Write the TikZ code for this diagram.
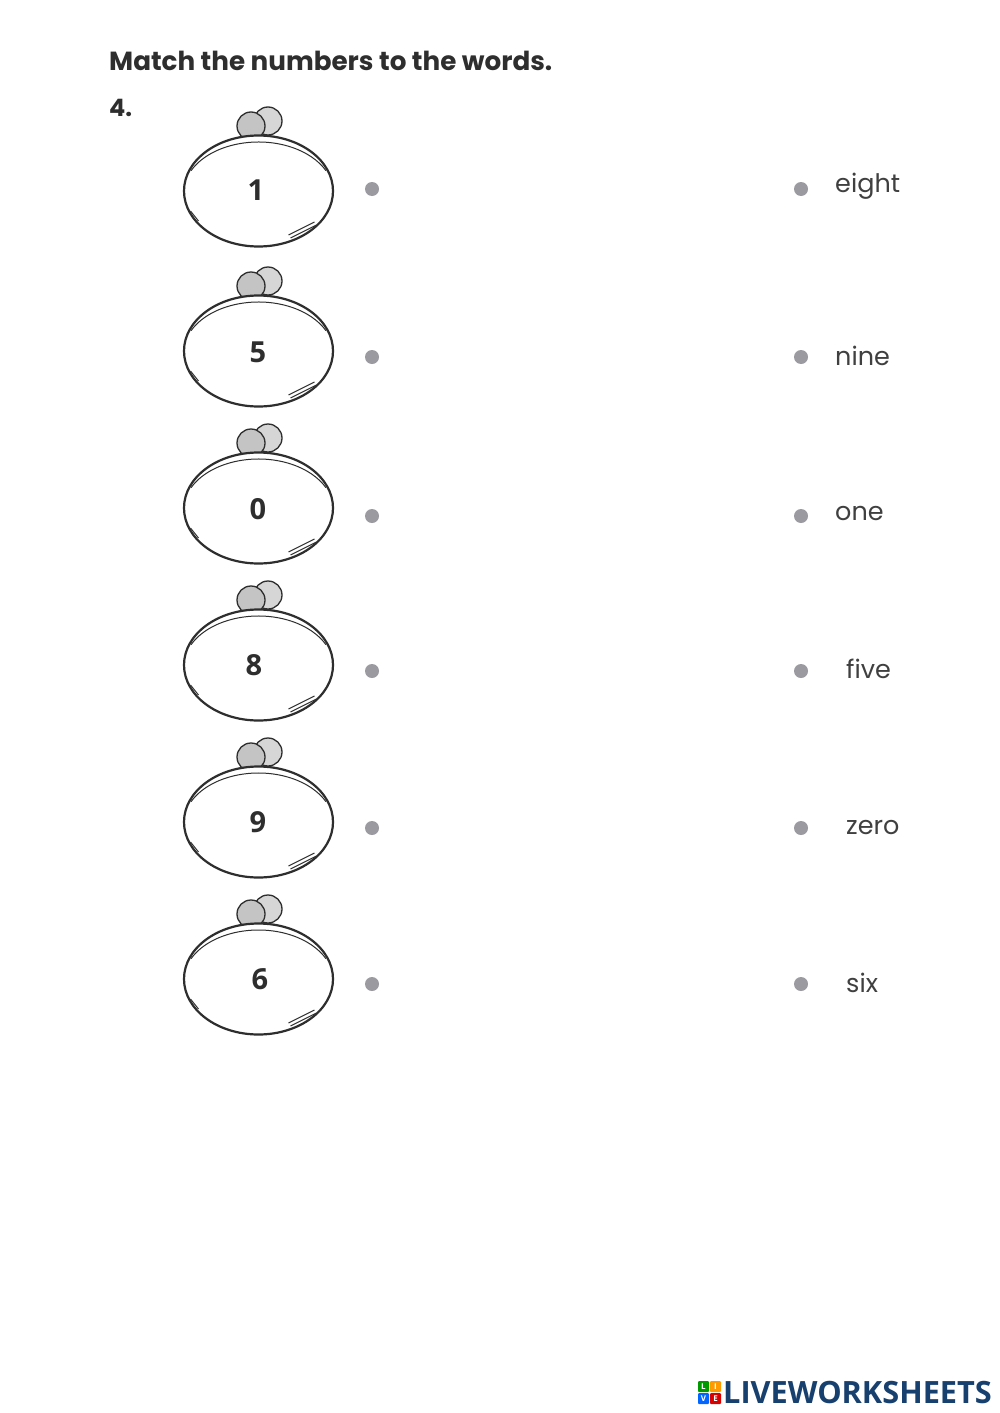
\documentclass[tikz,border=0pt]{standalone}
\usepackage{fontspec}
\setmainfont{Poppins}
\newfontfamily\headfont{Poppins}
\newfontfamily\logofont{Open Sans}
\usetikzlibrary{shapes.geometric}

\definecolor{inkgray}{HTML}{2E2E2E}
\definecolor{dotgray}{HTML}{9A9AA0}
\definecolor{coingray}{HTML}{C4C4C4}
\definecolor{logonavy}{HTML}{17406E}

\begin{document}
\begin{tikzpicture}[x=1pt,y=-1pt,
    ringbody/.style={ellipse, draw=inkgray, line width=2.2pt, fill=white,
      minimum width=149pt, minimum height=111pt, inner sep=0pt},
    ringline/.style={draw=inkgray, line width=1pt},
    coin/.style={circle, draw=inkgray, line width=1.3pt, minimum size=28pt, inner sep=0pt},
    digit/.style={font=\logofont\bfseries\fontsize{29}{29}\selectfont, text=inkgray, inner sep=0pt},
    matchdot/.style={circle, fill=dotgray, minimum size=14pt, inner sep=0pt},
    word/.style={font=\fontsize{25.5}{26}\selectfont, text=black!75, anchor=west, inner sep=0pt},
    logobox/.style={minimum size=11pt, inner sep=0pt, rounded corners=1pt, text=white,
      font=\logofont\bfseries\fontsize{8}{8}\selectfont}]

  \useasboundingbox (0,0) rectangle (1000,1413);
  \fill[white] (0,0) rectangle (1000,1413);

  \node[anchor=west, inner sep=0pt, text=inkgray,
    font=\headfont\bfseries\fontsize{26.2}{26}\selectfont] (title) at (109,61)
    {Match the numbers to the words.};
  \node[anchor=west, inner sep=0pt, text=inkgray,
    font=\headfont\bfseries\fontsize{24}{24}\selectfont] (number) at (109,108) {4.};

  % ring y, digit x, digit y, dot y, word x, word y, digit, word
  \foreach \i/\ry/\dx/\dy/\py/\wx/\wy/\num/\txt in {
      1/191/256/190/189/835/186/1/eight,
      2/351/258/352/357/835/356/5/nine,
      3/508/258/509/516/835/513/0/one,
      4/665/254/665/671/846/669/8/five,
      5/822/258/822/828/846/827/9/zero,
      6/979/260/979/984/846/983/6/six} {
    \node[coin, fill=coingray!70] (back\i) at (268,\ry-70) {};
    \node[coin, fill=coingray] (front\i) at (251,\ry-65) {};
    \node[ringbody] (ring\i) at (258.5,\ry) {};
    \begin{scope}[shift={(258.5,\ry)}]
      \draw[ringline] ([shift={(154:75pt and 51pt)}]0,2) arc[x radius=75pt, y radius=51pt, start angle=154, end angle=26];
      \draw[ringline] (30,44) -- (56,31);
      \draw[ringline] (32,47) -- (58,34);
      \draw[ringline] (-68,20) -- (-60,30);
    \end{scope}
    \node[digit] (num\i) at (\dx,\dy) {\num};
    \node[matchdot] (left\i) at (372,\py) {};
    \node[matchdot] (right\i) at (801,\py) {};
    \node[word] (word\i) at (\wx,\wy) {\txt};
  }

  \node[logobox, fill=green!60!black] (logoa) at (703.5,1386.5) {L};
  \node[logobox, fill=orange!80!yellow] (logob) at (715.5,1386.5) {I};
  \node[logobox, fill=blue!60!cyan] (logoc) at (703.5,1398.5) {V};
  \node[logobox, fill=red!85!black] (logod) at (715.5,1398.5) {E};
  \node[anchor=west, inner sep=0pt, text=logonavy,
    font=\logofont\bfseries\fontsize{30.7}{31}\selectfont] (brand) at (723,1392.5)
    {LIVEWORKSHEETS};

\end{tikzpicture}
\end{document}
